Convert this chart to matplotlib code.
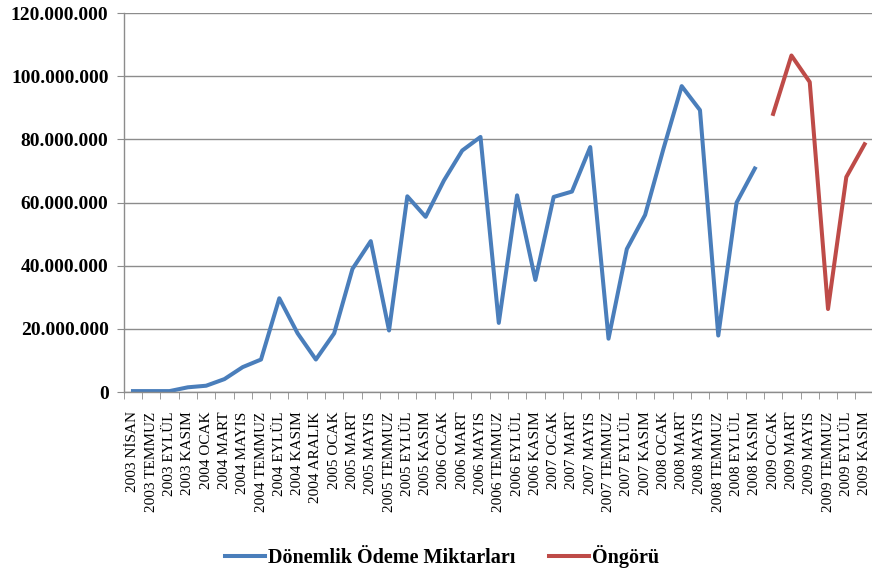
import numpy as np
import matplotlib.pyplot as plt
from matplotlib.ticker import FuncFormatter

# donem etiketleri
donemler = [
    "2003 NİSAN", "2003 TEMMUZ", "2003 EYLÜL", "2003 KASIM",
    "2004 OCAK", "2004 MART", "2004 MAYIS", "2004 TEMMUZ", "2004 EYLÜL", "2004 KASIM", "2004 ARALIK",
    "2005 OCAK", "2005 MART", "2005 MAYIS", "2005 TEMMUZ", "2005 EYLÜL", "2005 KASIM",
    "2006 OCAK", "2006 MART", "2006 MAYIS", "2006 TEMMUZ", "2006 EYLÜL", "2006 KASIM",
    "2007 OCAK", "2007 MART", "2007 MAYIS", "2007 TEMMUZ", "2007 EYLÜL", "2007 KASIM",
    "2008 OCAK", "2008 MART", "2008 MAYIS", "2008 TEMMUZ", "2008 EYLÜL", "2008 KASIM",
    "2009 OCAK", "2009 MART", "2009 MAYIS", "2009 TEMMUZ", "2009 EYLÜL", "2009 KASIM",
]

# odeme miktarlari (milyon)
odeme = [
    0.3, 0.3, 0.3, 1.5,
    2.0, 4.1, 7.9, 10.3, 29.7, 18.6, 10.3,
    18.6, 39.0, 47.8, 19.5, 62.0, 55.5,
    67.0, 76.5, 80.8, 21.9, 62.3, 35.5,
    61.8, 63.5, 77.6, 16.9, 45.3, 56.1,
    77.0, 96.9, 89.3, 17.9, 60.0, 70.8,
]

# ongoru (milyon)
ongoru = [88.1, 106.6, 98.2, 26.3, 68.1, 78.5]

n = len(donemler)
x = np.arange(n)
y_odeme = np.full(n, np.nan)
y_odeme[:len(odeme)] = np.array(odeme) * 1e6
y_ongoru = np.full(n, np.nan)
y_ongoru[len(odeme):] = np.array(ongoru) * 1e6

fig = plt.figure(figsize=[8.72, 5.74], dpi=100)
ax = fig.add_axes([0.142, 0.317, 0.86, 0.66])

ax.plot(x, y_odeme, color="#4A7EBB", lw=2.9, label="Dönemlik Ödeme Miktarları")
ax.plot(x, y_ongoru, color="#BE4B48", lw=2.9, label="Öngörü")

ax.set_xlim(-0.5, n - 0.5)
ax.set_ylim(0, 120e6)
ax.set_yticks(np.arange(0, 120e6 + 1, 20e6))
ax.yaxis.set_major_formatter(FuncFormatter(lambda v, p: f"{int(v):,}".replace(",", ".")))
ax.grid(axis="y", color="#8c8c8c", lw=1)
ax.set_axisbelow(True)

ax.set_xticks(x)
ax.set_xticklabels(donemler, rotation=90, fontsize=11, family="Liberation Serif")
ax.set_xticks(np.arange(-0.5, n, 1), minor=True)
ax.tick_params(axis="x", which="major", length=0, pad=14)
ax.tick_params(axis="x", which="minor", length=5, color="#8c8c8c", direction="out")
ax.tick_params(axis="y", length=5, color="#8c8c8c", pad=6)
for t in ax.get_yticklabels():
    t.set_fontfamily("Liberation Serif")
    t.set_fontweight("bold")
    t.set_fontsize(14)

for s in ["top", "right"]:
    ax.spines[s].set_visible(False)
for s in ["left", "bottom"]:
    ax.spines[s].set_color("#8c8c8c")
    ax.spines[s].set_linewidth(1)

fig.legend(loc="center", bbox_to_anchor=(0.507, 0.03), ncol=2, frameon=False,
           prop={"family": "Liberation Serif", "weight": "bold", "size": 14.5},
           handlelength=2.0, handletextpad=0.15, columnspacing=1.65)

plt.savefig("out.png", dpi=100)
